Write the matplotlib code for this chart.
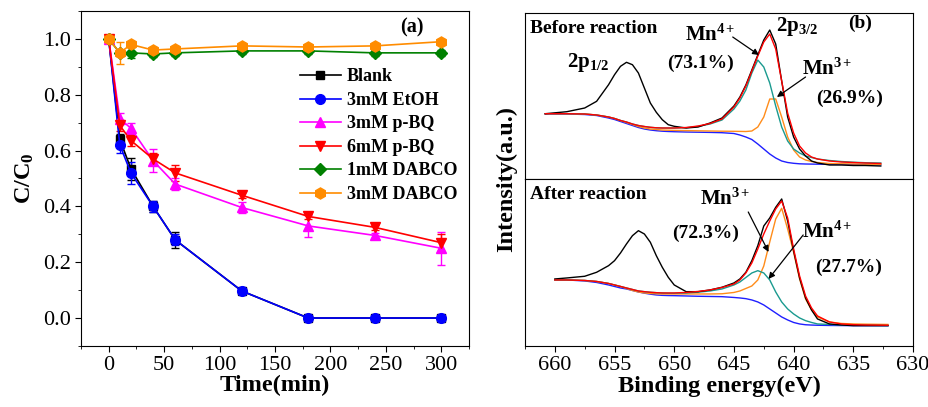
import matplotlib
matplotlib.use('Agg')
import matplotlib.pyplot as plt
from matplotlib.ticker import MultipleLocator

plt.rcParams['font.family'] = ['Liberation Serif', 'DejaVu Serif']
plt.rcParams['mathtext.fontset'] = 'custom'
plt.rcParams['mathtext.rm'] = 'Liberation Serif'
plt.rcParams['mathtext.bf'] = 'Liberation Serif:bold'
plt.rcParams['mathtext.it'] = 'Liberation Serif:italic'

# ---- panel (a): degradation data ----
time = [0, 10, 20, 40, 60, 120, 180, 240, 300]
blank = [1.0, 0.64, 0.535, 0.40, 0.28, 0.097, 0.0, 0.0, 0.0]
blank_err = [0, 0.02, 0.04, 0.02, 0.03, 0.01, 0.01, 0, 0]
etoh = [1.0, 0.62, 0.52, 0.40, 0.28, 0.097, 0.0, 0.0, 0.0]
etoh_err = [0, 0.03, 0.04, 0.02, 0.02, 0.01, 0.01, 0, 0]
pbq3 = [1.0, 0.714, 0.68, 0.564, 0.48, 0.396, 0.33, 0.296, 0.25]
pbq3_err = [0, 0.02, 0.02, 0.04, 0.02, 0.02, 0.04, 0.01, 0.06]
pbq6 = [1.0, 0.69, 0.636, 0.57, 0.52, 0.44, 0.364, 0.325, 0.27]
pbq6_err = [0, 0.02, 0.02, 0.02, 0.03, 0.01, 0.01, 0.01, 0.03]
dabco1 = [1.0, 0.95, 0.95, 0.946, 0.95, 0.957, 0.957, 0.95, 0.95]
dabco1_err = [0, 0.01, 0.02, 0.01, 0.01, 0.01, 0.01, 0.01, 0.01]
dabco3 = [1.0, 0.95, 0.98, 0.96, 0.964, 0.975, 0.971, 0.975, 0.99]
dabco3_err = [0, 0.04, 0.01, 0.01, 0.01, 0.01, 0.01, 0.01, 0.01]

# ---- panel (b): Mn 2p XPS, before reaction ----
E_top = [660.8, 659, 657.5, 656.5, 655.5, 655, 654.5, 654, 653.5, 653, 652.5, 652, 651.5, 651,
         650.5, 650, 649, 648, 647, 646, 645, 644.5, 644, 643.5, 643, 642.5, 642, 641.5, 641,
         640.5, 640, 639.5, 639, 638.5, 638, 637, 636, 635, 634, 632.7]
top_raw = [65.3, 67.3, 71, 77.7, 94.3, 104.3, 112.7, 116.7, 114.3, 106, 91, 76, 66.7, 59.3,
           54.3, 52.7, 51, 52, 56, 61, 73, 82, 94, 109, 124, 139, 149, 135, 98,
           62, 42, 30, 23, 18, 16, 14, 14, 13.5, 13.5, 13]
top_env = [65.3, 65.3, 65, 64, 62, 60.5, 58.5, 57, 55, 53.5, 52.5, 51.7, 51.2, 51,
           51, 51, 51.5, 53, 55.5, 60, 72, 81, 93, 108, 123, 137, 145, 130, 98,
           66, 46, 33, 26, 22, 20, 18, 17, 16.5, 16, 15.5]
top_mn4 = [65.3, 65.3, 65, 64, 62, 60.5, 58.5, 57, 55, 53.5, 52.5, 51.7, 51.2, 51,
           51, 51, 51.3, 52.6, 55, 59, 70, 78, 89, 106, 119, 112, 96, 73, 52,
           38, 30, 26, 23, 21.5, 20, 18.5, 17.5, 16.8, 16.3, 16]
top_mn3 = [65.3, 65.3, 65, 64, 62, 60.5, 58.5, 56.5, 54.5, 52.5, 51, 50, 49.5, 49,
           48.8, 48.6, 48.4, 48.2, 48, 47.8, 47.7, 47.6, 47.5, 48, 52, 62, 80, 80, 62,
           42, 29, 22, 19, 17.5, 16.5, 15.5, 15.2, 15, 14.8, 14.7]
top_base = [65, 65, 64.5, 63.5, 61, 59.5, 57.5, 55.5, 53.5, 51.5, 50, 49, 48.3, 47.8,
            47.5, 47.3, 47, 46.8, 46.6, 46.3, 45.5, 44, 42, 39.5, 35, 30, 25, 21, 18,
            16.5, 15.7, 15.2, 15, 14.9, 14.8, 14.7, 14.6, 14.5, 14.4, 14.3]

# ---- after reaction ----
E_bot = [660, 659, 657.5, 656.5, 655.5, 655, 654.5, 654, 653.5, 653, 652.5, 652, 651.5, 651,
         650.5, 650, 649, 648, 647, 646, 645, 644.5, 644, 643.5, 643, 642.5, 642, 641.5, 641,
         640.5, 640, 639.5, 639, 638.5, 638, 637, 636, 635, 634, 632.1]
bot_raw = [67, 68, 69.7, 73.7, 80.3, 85.3, 93, 102, 110.3, 115.3, 112, 103.7, 90.3, 78.7,
           68.7, 61, 54.3, 54.3, 56, 58.7, 63, 67, 73.7, 85.3, 100.3, 120, 128, 138.7, 147,
           125, 95, 68, 48, 36, 27, 22, 21, 20.3, 20.3, 20.3]
bot_env = [66, 66, 65.5, 64.5, 62.5, 61, 59.5, 58, 56.5, 55, 54.3, 53.7, 53.3, 53,
           53, 53, 53.5, 54.5, 56, 58.5, 62, 66, 73, 83, 97, 112, 125, 137, 145,
           128, 97, 70, 50, 38, 30, 24, 22, 21.3, 21, 20.7]
bot_mn4 = [66, 66, 65.5, 64.5, 62.5, 61, 59.5, 58, 56.5, 55, 54.3, 53.7, 53.3, 53,
           52.8, 52.8, 53, 53.8, 55, 57, 61, 64, 68.5, 73, 75.3, 73, 66, 54, 44,
           37, 32, 28, 25.3, 23.5, 22, 21.5, 21, 20.8, 20.6, 20.4]
bot_mn3 = [66, 66, 65.5, 64.5, 62.5, 61, 59.5, 57.5, 55.5, 54, 53, 52.5, 52.2, 52,
           52, 52, 52, 52, 52, 52.2, 53.5, 55, 57.5, 60, 66, 80, 104, 127, 137.7,
           117, 93.7, 67, 47, 36, 29, 24, 22.5, 22, 21.8, 21.5]
bot_base = [66, 66, 65, 63.5, 61, 59.5, 58, 57, 55.5, 54, 52.8, 51.8, 51, 50.6,
            50.4, 50.3, 50, 49.7, 49.5, 49.3, 48.5, 48, 47.3, 46, 44, 41, 37, 33, 29,
            26, 23.5, 22, 21.2, 20.9, 20.7, 20.5, 20.4, 20.3, 20.3, 20.3]

fig = plt.figure(figsize=(9.29, 4.07), dpi=100)

# ================= panel (a) =================
ax = fig.add_axes([0.0872, 0.150, 0.4176, 0.823])
series = [
    ('Blank', blank, blank_err, 'black', 's', 6),
    ('3mM EtOH', etoh, etoh_err, '#0000FF', 'o', 7),
    ('3mM p-BQ', pbq3, pbq3_err, '#FF00FF', '^', 7.5),
    ('6mM p-BQ', pbq6, pbq6_err, '#FF0000', 'v', 7.5),
    ('1mM DABCO', dabco1, dabco1_err, '#008000', 'D', 6),
    ('3mM DABCO', dabco3, dabco3_err, '#FF8C00', 'h', 8),
]
for name, y, err, c, m, ms in series:
    ax.errorbar(time, y, yerr=err, color=c, marker=m, markersize=ms, lw=1.2,
                capsize=3, elinewidth=1, label=name)

ax.set_xlim(-25, 325)
ax.set_ylim(-0.1, 1.1)
ax.xaxis.set_major_locator(MultipleLocator(50))
ax.xaxis.set_minor_locator(MultipleLocator(25))
ax.yaxis.set_major_locator(MultipleLocator(0.2))
ax.yaxis.set_minor_locator(MultipleLocator(0.1))
ax.tick_params(which='both', direction='out', top=False, right=False, labelsize=16)
ax.tick_params(which='major', length=4)
ax.tick_params(which='minor', length=2.5)
ax.set_xlabel('Time(min)', fontsize=17.5, fontweight='bold', labelpad=0)
ax.set_ylabel(r'$\mathbf{C/C_0}$', fontsize=17.5, labelpad=5)
ax.text(0.853, 0.952, '(a)', transform=ax.transAxes, fontsize=14.5, fontweight='bold',
        ha='center', va='center')
handles, labels = ax.get_legend_handles_labels()
handles = [h[0] for h in handles]
ax.legend(handles, labels, loc='upper left', bbox_to_anchor=(0.545, 0.85), frameon=False,
          prop={'weight': 'bold', 'size': 13}, handlelength=2.3, handletextpad=0.3,
          labelspacing=0.36, borderaxespad=0)

# ================= panel (b) =================
axt = fig.add_axes([0.5651, 0.5602, 0.4177, 0.4078])
axb = fig.add_axes([0.5651, 0.150, 0.4177, 0.4102])

teal = '#1a9a8f'
orange = '#FF8C1A'
for a, E, raw, env, mn4, mn3, base in [
        (axt, E_top, top_raw, top_env, top_mn4, top_mn3, top_base),
        (axb, E_bot, bot_raw, bot_env, bot_mn4, bot_mn3, bot_base)]:
    a.plot(E, base, color='#1f1fff', lw=1)
    a.plot(E, mn3, color=orange, lw=1)
    a.plot(E, mn4, color=teal, lw=1)
    a.plot(E, raw, color='black', lw=1)
    a.plot(E, env, color='#FF0000', lw=1)
    a.set_xlim(662.5, 630)
    a.set_yticks([])

axt.set_ylim(0, 166)
axb.set_ylim(0, 167)
axt.set_xticks([])
axb.xaxis.set_major_locator(MultipleLocator(5))
axb.xaxis.set_minor_locator(MultipleLocator(2.5))
axb.tick_params(which='both', direction='out', top=False, labelsize=16)
axb.tick_params(which='major', length=4)
axb.tick_params(which='minor', length=2.5)
axb.set_xlabel('Binding energy(eV)', fontsize=17.5, fontweight='bold', labelpad=0)

bold = dict(fontweight='bold', fontsize=14)
arrow = dict(arrowstyle='-|>', color='black', lw=0.9, mutation_scale=9, shrinkA=0, shrinkB=0)

axt.text(662.1, 151, 'Before reaction', ha='left', va='center', **bold)
axt.text(657.2, 117, r'$\mathbf{2p_{1/2}}$', ha='center', va='center', fontsize=15)
axt.text(647.0, 144, r'$\mathbf{Mn^{4+}}$', ha='center', va='center', fontsize=15)
axt.text(647.8, 116, '(73.1%)', ha='center', va='center', **bold)
axt.text(639.7, 153, r'$\mathbf{2p_{3/2}}$', ha='center', va='center', fontsize=15)
axt.text(634.4, 156, '(b)', ha='center', va='center', **bold)
axt.text(637.2, 110, r'$\mathbf{Mn^{3+}}$', ha='center', va='center', fontsize=15)
axt.text(635.3, 81, '(26.9%)', ha='center', va='center', **bold)
axt.annotate('', xy=(642.9, 124), xytext=(645.1, 142), arrowprops=arrow)
axt.annotate('', xy=(641.4, 82), xytext=(639.0, 102), arrowprops=arrow)

axb.text(662.1, 151, 'After reaction', ha='left', va='center', **bold)
axb.text(645.7, 147, r'$\mathbf{Mn^{3+}}$', ha='center', va='center', fontsize=15)
axb.text(647.4, 113, '(72.3%)', ha='center', va='center', **bold)
axb.text(637.2, 114, r'$\mathbf{Mn^{4+}}$', ha='center', va='center', fontsize=15)
axb.text(635.4, 79, '(27.7%)', ha='center', va='center', **bold)
axb.annotate('', xy=(642.1, 94), xytext=(643.8, 134), arrowprops=arrow)
axb.annotate('', xy=(642.1, 67), xytext=(639.2, 111), arrowprops=arrow)

fig.text(0.545, 0.56, 'Intensity(a.u.)', rotation=90, ha='center', va='center',
         fontsize=17.5, fontweight='bold')

fig.savefig('out.png', dpi=100)
